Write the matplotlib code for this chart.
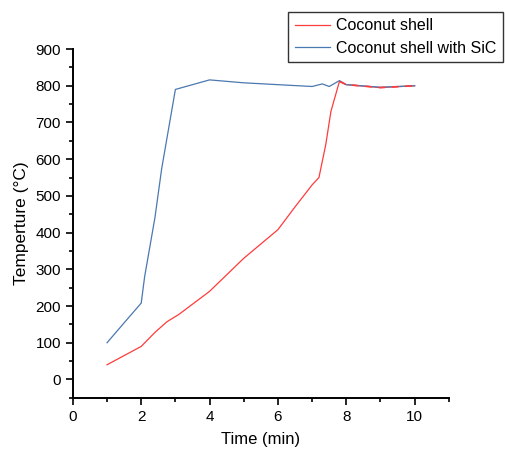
import matplotlib.pyplot as plt
from matplotlib.ticker import MultipleLocator

plt.rcParams['font.family'] = ['Liberation Sans', 'DejaVu Sans']

# coconut shell
t_cs = [1, 2, 2.4, 2.75, 3.1, 4, 5, 6, 6.5, 7, 7.2, 7.4, 7.55, 7.8, 8, 9, 10]
temp_cs = [40, 90, 128, 157, 177, 240, 330, 408, 470, 530, 550, 640, 730, 812, 803, 795, 800]

# coconut shell with SiC
t_sic = [1, 1.6, 2, 2.1, 2.4, 2.6, 3, 4, 5, 6, 7, 7.3, 7.5, 7.8, 8, 9, 10]
temp_sic = [100, 165, 208, 280, 440, 575, 790, 816, 808, 803, 798, 805, 798, 814, 803, 796, 800]

fig = plt.figure(figsize=(5.06, 4.5), dpi=100)
ax = fig.add_axes([0.144, 0.116, 0.743, 0.775])

ax.plot(t_cs, temp_cs, color='#ff3b3b', lw=0.9, label='Coconut shell')
ax.plot(t_sic, temp_sic, color='#4a78b0', lw=0.9, label='Coconut shell with SiC')
# red dashes over the plateau
ax.plot(t_cs[-4:], temp_cs[-4:], color='#ff3b3b', lw=1.2, dashes=(4, 4))

ax.set_xlim(0, 11)
ax.set_ylim(-50, 900)
ax.xaxis.set_major_locator(MultipleLocator(2))
ax.xaxis.set_minor_locator(MultipleLocator(1))
ax.yaxis.set_major_locator(MultipleLocator(100))
ax.yaxis.set_minor_locator(MultipleLocator(50))
ax.set_xticks([0, 2, 4, 6, 8, 10])

ax.spines['top'].set_visible(False)
ax.spines['right'].set_visible(False)
ax.spines['left'].set_linewidth(1.4)
ax.spines['bottom'].set_linewidth(1.4)
ax.tick_params(which='major', direction='out', length=5, width=1.2, labelsize=11)
ax.tick_params(which='minor', direction='out', length=3, width=1.2)

ax.set_xlabel('Time (min)', fontsize=12, labelpad=6)
ax.set_ylabel('Temperture (°C)', fontsize=12.5, labelpad=5)

leg = fig.legend(loc='upper right', bbox_to_anchor=(503 / 506, 1 - 12 / 450),
                 fontsize=11.5, frameon=True, fancybox=False, borderaxespad=0,
                 handlelength=2.2, handletextpad=0.4, labelspacing=0.45,
                 borderpad=0.4)
leg.get_frame().set_edgecolor('black')
leg.get_frame().set_linewidth(1.0)

fig.savefig('out.png', dpi=100)
